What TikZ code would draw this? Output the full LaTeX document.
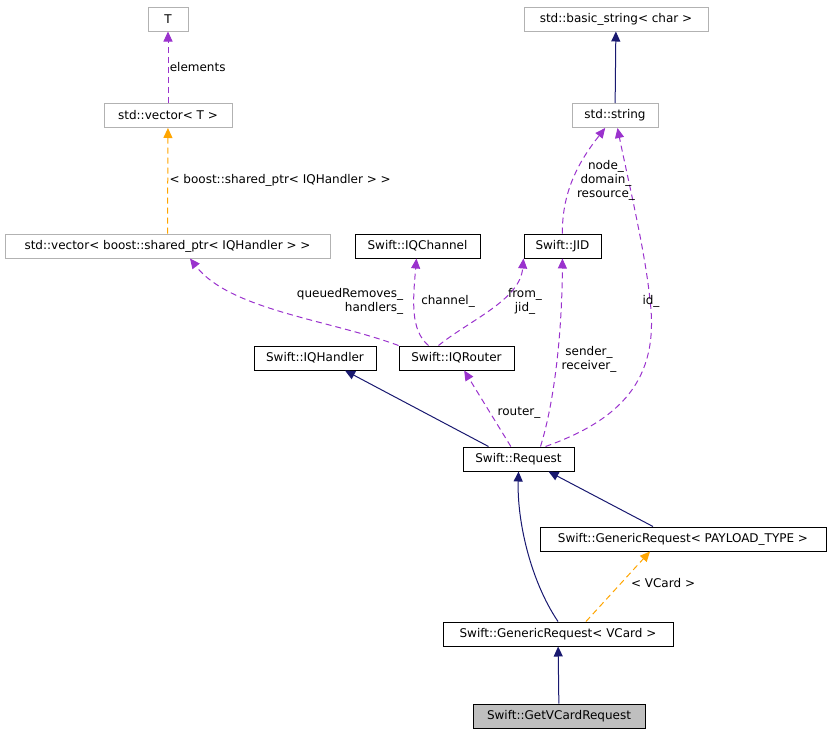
\documentclass[tikz,border=0pt]{standalone}
\usepackage{fontspec}
\setmainfont{DejaVu Sans}
\usetikzlibrary{arrows.meta}
\definecolor{navy}{HTML}{191970}
\definecolor{purp}{HTML}{9A32CD}
\definecolor{orng}{HTML}{FFA500}
\tikzset{
  cls/.style={draw=black, fill=white, minimum height=24pt, inner sep=1pt, line width=1pt, font=\fontsize{12}{14}\selectfont},
  ext/.style={cls, draw=black!30},
  inherit/.style={draw=navy, line width=1pt, -{Triangle[length=10pt,width=9pt]}},
  usage/.style={draw=purp, line width=1pt, dash pattern=on 6pt off 4pt, -{Triangle[length=10pt,width=9pt]}},
  templ/.style={draw=orng, line width=1pt, dash pattern=on 6pt off 4pt, -{Triangle[length=10pt,width=9pt]}},
  lbl/.style={font=\fontsize{12}{14}\selectfont, align=center}
}
\begin{document}
\begin{tikzpicture}[x=1pt, y=-1pt]
  \useasboundingbox (0,0) rectangle (831,736);

  \node[ext, minimum width=40pt] (T) at (168,19) {T};
  \node[ext, minimum width=128pt] (vecT) at (168,115.5) {std::vector< T >};
  \node[ext, minimum width=325pt] (vecShared) at (167.5,246) {std::vector< boost::shared\_ptr< IQHandler > >};
  \node[cls, minimum width=125pt] (iqChannel) at (417.5,246) {Swift::IQChannel};
  \node[cls, minimum width=77pt] (jid) at (562.5,246) {Swift::JID};
  \node[ext, minimum width=184pt] (basicString) at (616,19) {std::basic\_string< char >};
  \node[ext, minimum width=86pt] (stdString) at (615,115.5) {std::string};
  \node[cls, minimum width=122pt] (iqHandler) at (315,358) {Swift::IQHandler};
  \node[cls, minimum width=115pt] (iqRouter) at (456.5,358) {Swift::IQRouter};
  \node[cls, minimum width=111pt] (request) at (518.5,459) {Swift::Request};
  \node[cls, minimum width=286pt] (genericPT) at (683,539) {Swift::GenericRequest< PAYLOAD\_TYPE >};
  \node[cls, minimum width=230pt] (genericVCard) at (558,634) {Swift::GenericRequest< VCard >};
  \node[cls, fill=black!25, minimum width=172pt] (getVCard) at (559,716) {Swift::GetVCardRequest};

  % template and member edges
  \draw[usage] (vecT) -- (T) node[lbl, midway, right=-2pt] {elements};
  \draw[templ] (vecShared) -- (vecT) node[lbl, midway, right=-2pt] {< boost::shared\_ptr< IQHandler > >};
  \draw[usage] (iqRouter.north west) .. controls (330,320) and (230,310) .. (vecShared.south -| 190,0);
  \node[lbl, align=right] at (350,301) {queuedRemoves\_\\handlers\_};
  \draw[usage] (iqRouter.north west) ++(30,0) .. controls (410,330) and (413,300) .. (iqChannel);
  \node[lbl] at (448,301) {channel\_};
  \draw[usage] ([xshift=40pt]iqRouter.north west) .. controls (470,320) and (520,300) .. (jid.south west) ;
  \node[lbl] at (525,301) {from\_\\jid\_};
  \draw[usage] (request) -- (iqRouter) node[lbl, pos=0.45, right=4pt] {router\_};
  \draw[usage] ([xshift=22pt]request.north) .. controls (555,400) and (562,330) .. (jid);
  \node[lbl] at (589,359) {sender\_\\receiver\_};
  \draw[usage] ([xshift=27pt]request.north) .. controls (620,420) and (660,380) .. (650,300) .. controls (645,250) and (628,180) .. (stdString);
  \node[lbl] at (651,301) {id\_};
  \draw[usage] (jid) .. controls (562,190) and (580,160) .. (stdString);
  \node[lbl] at (606,180) {node\_\\domain\_\\resource\_};
  \draw[inherit] (stdString) -- (basicString);

  % inheritance
  \draw[inherit] ([xshift=-30pt]request.north) -- ([xshift=30pt]iqHandler.south);
  \draw[inherit] ([xshift=-30pt]genericPT.north) -- ([xshift=30pt]request.south);
  \draw[inherit] (genericVCard.north) .. controls (530,580) and (517,520) .. (request.south);
  \draw[templ] ([xshift=28pt]genericVCard.north) -- ([xshift=-33pt]genericPT.south) node[lbl, pos=0.55, right=6pt] {< VCard >};
  \draw[inherit] (getVCard) -- (genericVCard);
\end{tikzpicture}
\end{document}
